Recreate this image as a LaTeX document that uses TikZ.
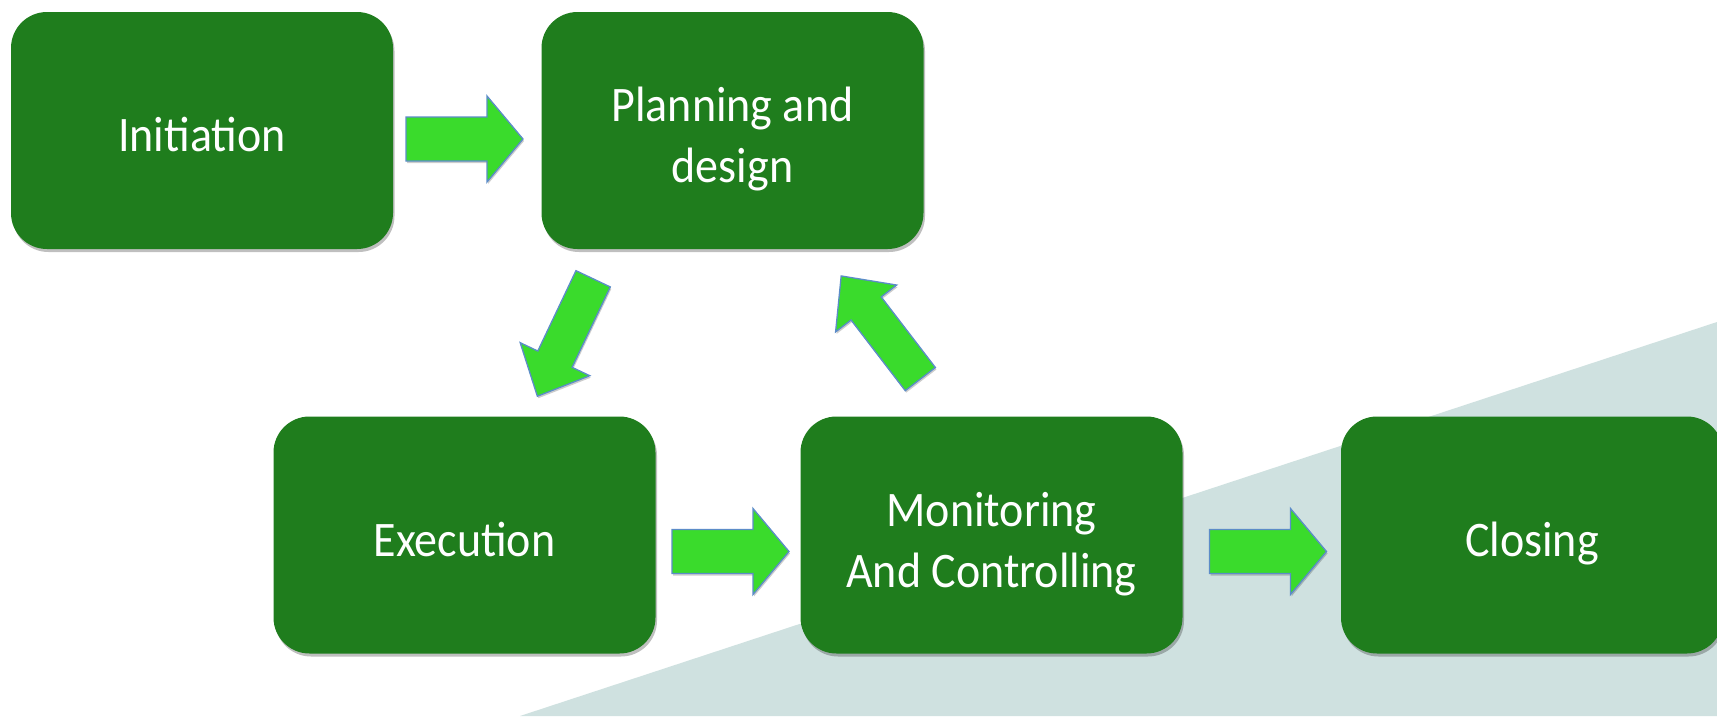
\documentclass[tikz,border=0pt]{standalone}
\usepackage{fontspec}
\setmainfont{Carlito}
\usetikzlibrary{shadows,calc}
\definecolor{boxgreen}{RGB}{31,125,29}
\definecolor{arrowgreen}{RGB}{58,219,44}
\definecolor{arrowline}{RGB}{92,140,200}
\definecolor{bgteal}{RGB}{207,225,224}
\newcommand{\tallt}[1]{\scalebox{1}[1.08]{#1}}
\begin{document}
\begin{tikzpicture}[x=1pt,y=-1pt,
  stage/.style={rectangle, rounded corners=36pt, fill=boxgreen,
    minimum width=382pt, minimum height=237pt, inner sep=0pt,
    drop shadow={shadow xshift=1.5pt, shadow yshift=-3pt, opacity=0.25, fill=black}},
  lbl/.style={text=white, font=\fontsize{46}{60}\selectfont, inner sep=0pt, anchor=base},
  arrowstyle/.style={fill=arrowgreen, draw=arrowline, line width=1.3pt, line join=miter,
    drop shadow={shadow xshift=1pt, shadow yshift=-2pt, opacity=0.2, fill=black}},
  harrow/.pic={\draw[arrowstyle] (-58.5,-22) -- (22.5,-22) -- (22.5,-43) -- (58.5,0)
      -- (22.5,43) -- (22.5,22) -- (-58.5,22) -- cycle;},
  darrow/.pic={\draw[arrowstyle] (-65,-19) -- (24,-19) -- (24,-38.5) -- (65,0)
      -- (24,38.5) -- (24,19) -- (-65,19) -- cycle;}
]
\useasboundingbox (0,0) rectangle (1717,716);
\clip (0,0) rectangle (1717,716);
\fill[white] (0,0) rectangle (1717,716);
\fill[bgteal] (520,716) -- (1717,322) -- (1717,716) -- cycle;

% stages
\node[stage] (init) at (202,130.5) {};
\node[stage] (plan) at (732.5,130.5) {};
\node[stage] (exec) at (464.5,535) {};
\node[stage] (moni) at (991.5,535) {};
\node[stage] (clos) at (1532,535) {};

% labels
\node[lbl] (tinit) at ($(init.center)+(0,21)$) {\tallt{Initiation}};
\node[lbl] (tplan1) at ($(plan.center)+(0,-9)$) {\tallt{Planning and}};
\node[lbl] (tplan2) at ($(plan.center)+(0,52)$) {\tallt{design}};
\node[lbl] (texec) at ($(exec.center)+(0,21)$) {\tallt{Execution}};
\node[lbl] (tmoni1) at ($(moni.center)+(0,-9)$) {\tallt{Monitoring}};
\node[lbl] (tmoni2) at ($(moni.center)+(0,52)$) {\tallt{And Controlling}};
\node[lbl] (tclos) at ($(clos.center)+(0,21)$) {\tallt{Closing}};

% block arrows
\pic at (464.5,139) {harrow};
\pic at (730.5,551.5) {harrow};
\pic at (1268,551.5) {harrow};
\pic[rotate=-115.4] at (565.25,337.5) {darrow};
\pic[rotate=127.5] at (880.75,327.5) {darrow};
\end{tikzpicture}
\end{document}
